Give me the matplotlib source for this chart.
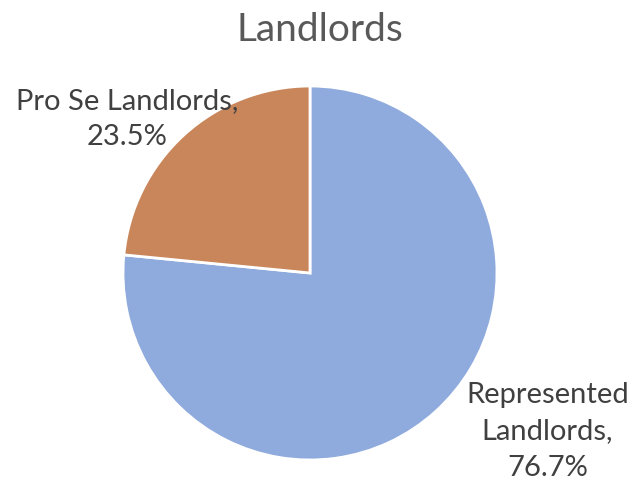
import matplotlib.pyplot as plt

categories = ["Represented Landlords", "Pro Se Landlords"]
shares = [76.7, 23.5]
label_text = ["Represented\nLandlords,\n76.7%", "Pro Se Landlords,\n23.5%"]
colors = ["#8FAADC", "#C9865A"]

plt.rcParams['font.family'] = ['Lato', 'DejaVu Sans']

fig = plt.figure(figsize=(6.34, 4.81), dpi=100)
# pie centre at about (310, 274) px, radius ~187 px
ax = fig.add_axes([(310 - 187) / 634, (207 - 187) / 481, 374 / 634, 374 / 481])

wedges, _ = ax.pie(shares, colors=colors, startangle=90, counterclock=False,
                   wedgeprops=dict(edgecolor="white", linewidth=2))
ax.set_xlim(-1, 1)
ax.set_ylim(-1, 1)
ax.set_aspect("equal")

ax.text(1.27, -0.84, label_text[0], ha="center", va="center", fontsize=21,
        color="#404040", linespacing=1.5, clip_on=False)
ax.text(-0.98, 0.83, label_text[1], ha="center", va="center", fontsize=21,
        color="#404040", linespacing=1.45, clip_on=False)

fig.text(320 / 634, 1 - 30 / 481, "Landlords", ha="center", va="center",
         fontsize=28, color="#595959")

fig.savefig("out.png", dpi=100)
